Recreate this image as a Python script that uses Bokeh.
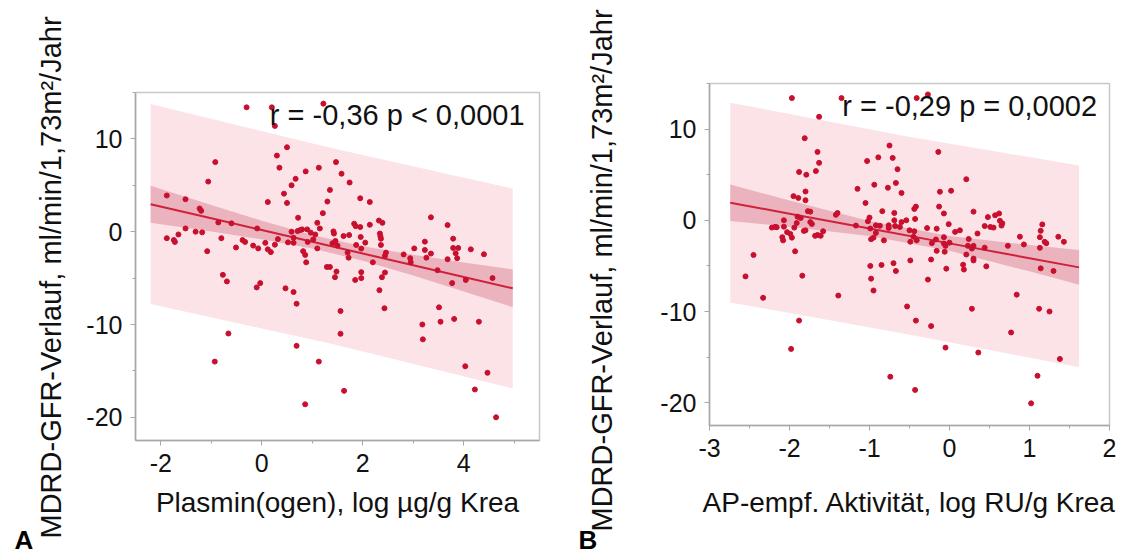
from bokeh.plotting import figure
from bokeh.layouts import row, column
from bokeh.models import Range1d, SingleIntervalTicker, Label, Title, CustomJSTickFormatter
from bokeh.embed import file_html
from bokeh.resources import INLINE

# ---------------- data: panel A (Plasmin(ogen)) ----------------
a_x = [-0.30, 0.20, 0.26, 1.22, 0.50, 0.30, -0.92, 0.35, 1.13, 0.87, 1.47, -1.06, 0.67, 0.59, 1.35, 0.44,
       0.50, 0.12, 1.30, 1.58, 1.74, 1.95, 2.14, -1.88, -1.51, -1.23, -1.20, 1.21, 0.72, -0.86, -0.60, -0.09,
       -1.51, -1.31, -1.18, -1.88, -1.74, -1.72, -1.65, -0.80, -1.08, -0.51, -0.38, -0.33, -0.17, -0.07, 0.07,
       0.12, 0.18, 0.26, 0.32, 0.52, 0.59, 0.63, 0.71, 0.76, 0.80, 0.90, 0.97, 1.06, 1.10, 1.15, 1.02, 1.10,
       0.63, 1.42, 1.43, 1.46, 1.40, 1.50, 1.62, 1.73, 1.83, 1.86, 1.95, 1.96, 1.87, 2.05, 1.97, 2.14, 2.32,
       2.39, 2.34, 2.35, 2.36, 2.36, 2.20, 2.46, 2.44, 1.70, 1.72, 0.82, 0.86, 0.88, 0.91, 1.29, 1.35, 1.48,
       1.45, 1.85, 1.97, 1.97, 2.38, 2.44, 2.33, 2.43, 1.56, 1.56, 1.63, 2.81, 2.94, 2.95, 3.02, 3.23, 3.23,
       3.26, 3.35, 3.35, 3.48, 3.68, 3.68, 3.79, 3.79, 3.89, 3.84, 3.87, 4.14, 4.40, 4.57, 3.77, 4.04, 3.51,
       3.18, 3.54, 3.81, 4.30, 3.19, 4.03, 4.47, 4.22, 4.64, -0.77, -0.69, -0.10, -0.03, 0.47, 0.63, 0.69,
       -0.66, 0.69, -0.93, 1.13, 0.86]
a_y = [13.4, 13.4, 11.4, 13.8, 9.1, 8.2, 7.5, 6.9, 6.9, 6.5, 7.5, 5.4, 5.7, 5.0, 4.5, 4.1,
       3.1, 3.2, 3.25, 6.25, 5.3, 3.6, 3.2, 3.9, 3.5, 2.5, 2.25, 2.0, 1.5, 1.0, 0.9, 0.35,
       0.35, 0.0, -0.07, -0.7, -0.9, -1.1, -0.3, -0.7, -2.1, -1.7, -0.9, -1.1, -1.5, -1.8, -1.2,
       -1.9, -2.2, -1.4, -0.8, -1.15, 0.0, -0.65, 0.07, 0.17, 0.25, 0.25, -0.1, -0.3, 0.96, 0.35, -0.83, -1.8,
       -1.2, 0.03, -0.2, -1.0, -1.25, -1.5, -0.47, -0.36, 0.86, 0.6, 0.5, -0.57, -1.43, -1.18, -1.82, 0.75, 1.2,
       0.96, -0.2, -0.5, -0.75, -1.43, -3.3, -2.25, -2.6, -2.25, -2.8, -2.1, -2.5, -3.3, -1.1, -3.8, -3.8, -4.3,
       -4.9, -5.2, -4.36, -5.0, -4.9, -4.4, -6.3, -8.25, -8.55, -11.0, -17.15, -2.45, -2.86, -3.3, -1.8, -1.07, -1.97,
       -2.8, 1.55, -2.36, -4.15, 0.71, -2.97, -0.75, -1.75, -1.75, -2.33, -2.86, -1.9, -2.43, -5.0, -5.54, -5.2, -8.15,
       -10.0, -9.7, -9.4, -9.7, -11.6, -14.5, -15.2, -17.0, -20.0, -4.65, -5.36, -6.0, -5.54, -6.1, -6.5, -7.76,
       -10.97, -12.3, -14.0, -14.0, -18.6]

# regression line and bands
a_fit_x = [-2.2, -1.0, 0.0, 1.0, 2.0, 3.0, 4.0, 4.97]
a_fit_y = [2.96, 1.44, 0.18, -1.08, -2.35, -3.61, -4.88, -6.10]
a_ci_hi = [4.96, 2.87, 1.18, -0.36, -1.57, -2.49, -3.31, -4.06]
a_ci_lo = [0.96, 0.01, -0.82, -1.80, -3.13, -4.73, -6.45, -8.14]
a_pi_x = [-2.2, 1.4, 4.97]
a_pi_hi = [13.75, 9.0, 4.64]
a_pi_lo = [-7.8, -12.1, -16.9]

# ---------------- data: panel B (AP-empf. Aktivitaet) ----------------
b_pts = [(-1.97, 13.4), (-1.35, 13.4), (-0.41, 13.4), (-0.27, 13.8),
         (-1.63, 11.35), (-1.81, 9.0), (-1.65, 7.5), (-1.63, 6.3), (-1.67, 5.4), (-1.88, 5.3), (-1.79, 5.0),
         (-1.80, 3.16), (-1.95, 2.65), (-1.89, 2.45), (-1.80, 2.2), (-1.77, 1.0), (-1.74, 0.95),
         (-1.90, 0.4), (-1.86, 0.25), (-1.74, -0.2), (-1.72, -0.4),
         (-2.07, 0.0), (-2.07, -0.7), (-2.22, -0.8), (-2.18, -0.72), (-2.16, -0.76),
         (-2.03, -1.3), (-1.99, -1.5), (-2.09, -1.85), (-2.08, -2.2), (-1.97, -1.9),
         (-1.94, -0.8), (-1.91, -0.3), (-1.82, -1.16), (-1.80, -1.1),
         (-1.68, -1.7), (-1.65, -1.6), (-1.61, -1.7), (-1.58, -1.2),
         (-1.93, -3.4), (-2.45, -3.8), (-2.55, -6.15), (-2.33, -8.5), (-1.84, -6.07), (-1.39, -8.25),
         (-1.88, -11.0), (-1.98, -14.1),
         (-1.42, 0.6), (-1.40, 0.8), (-1.17, -0.58), (-1.15, 3.45), (-1.05, 1.9),
         (-1.03, 6.5), (-0.89, 6.9), (-0.75, 8.2), (-0.71, 6.84), (-0.65, 5.6),
         (-0.94, 3.9), (-0.77, 3.57), (-0.67, 4.1), (-0.60, 3.0),
         (-1.00, 0.3), (-1.02, -0.1), (-0.84, 1.0), (-0.92, -0.55), (-0.76, -0.55), (-0.76, -0.84),
         (-0.69, 0.8), (-0.69, 0.0),
         (-0.95, -1.9), (-0.98, -2.07), (-0.82, -2.2), (-0.60, -0.2), (-0.54, 0.0), (-0.99, -0.9),
         (-0.92, -1.38), (-0.87, -0.6), (-0.62, -0.73), (-0.68, -0.62),
         (-0.99, -5.0), (-0.98, -6.4), (-0.95, -7.7), (-0.85, -4.9), (-0.70, -4.7), (-0.67, -5.56), (-0.49, -4.4),
         (-0.53, -9.45), (-0.42, -11.0), (-0.23, -11.6), (-0.74, -17.15), (-0.43, -18.6),
         (-0.14, 7.5), (0.21, 4.5), (-0.12, 3.13), (0.02, 3.24), (-0.13, 1.5), (-0.07, 0.75), (0.30, 0.95),
         (-0.42, 1.5), (-0.44, 1.25), (-0.43, 0.15),
         (-0.01, -0.42), (0.07, -1.27), (0.13, -1.1), (0.35, -1.45),
         (0.44, -0.63), (0.51, -0.73), (0.55, -0.8), (0.48, 0.35), (0.57, 0.55), (0.62, 0.75), (0.63, -0.05),
         (0.66, -0.33), (0.65, -0.58),
         (0.73, -2.8), (0.88, -1.8), (0.93, -2.65), (1.13, -1.85), (1.14, -1.15), (1.16, -0.45), (1.19, -2.36),
         (1.21, -2.52), (1.13, -3.02), (1.36, -1.8), (1.43, -2.36),
         (-0.50, -1.1), (-0.44, -1.2), (-0.45, -1.8), (-0.28, -0.85), (-0.16, -0.92),
         (-0.49, -2.35), (-0.41, -2.2), (-0.22, -2.5), (-0.17, -2.1), (-0.07, -1.85), (-0.07, -2.55),
         (-0.05, -2.8), (0.0, -2.45), (-0.16, -3.35), (-0.06, -3.45),
         (0.24, -2.05), (0.23, -2.8), (0.30, -2.8), (0.28, -3.1), (0.44, -3.0), (0.21, -3.75), (0.30, -4.2),
         (0.30, -4.4), (-0.23, -4.3), (-0.27, -6.5), (-0.04, -5.3),
         (0.17, -4.87), (0.18, -5.4), (0.46, -5.05), (0.28, -9.7), (-0.05, -13.96), (0.36, -14.5),
         (0.84, -8.15), (0.77, -12.3), (1.12, -9.7), (1.25, -10.0), (1.14, -5.27), (1.30, -5.56),
         (1.38, -15.2), (1.10, -17.05), (1.02, -20.07)]
b_x = [p[0] for p in b_pts]
b_y = [p[1] for p in b_pts]

b_fit_x = [-2.74, -2.0, -1.0, 0.0, 1.0, 1.62]
b_fit_y = [1.93, 0.72, -0.90, -2.53, -4.16, -5.16]
b_ci_hi = [3.93, 2.16, -0.08, -1.71, -2.72, -3.25]
b_ci_lo = [-0.07, -0.72, -1.72, -3.35, -5.60, -7.07]
b_pi_x = [-2.74, -0.56, 1.62]
b_pi_hi = [12.9, 9.25, 6.0]
b_pi_lo = [-9.0, -12.45, -16.1]

y_label = "MDRD-GFR-Verlauf, ml/min/1,73m²/Jahr"
a_xlabel = "Plasmin(ogen), log µg/g Krea"
b_xlabel = "AP-empf. Aktivität, log RU/g Krea"
a_stat = "r = -0,36 p < 0,0001"
b_stat = "r = -0,29 p = 0,0002"

FONT = "Liberation Sans"
PT_COL = "#c8102e"
LINE_COL = "#d0213a"
CI_COL = "#ebb3bd"
PI_COL = "#fbe3e7"


def make_panel(width, height, left, right, top, bottom, xr, x_int, xs, ys, fx, fy, clo, chi,
               px, plo, phi, xlabel, xlab_standoff, stat, stat_x, stat_y,
               ylab_offset, ylab_standoff, letter, letter_offset, letter_standoff):
    p = figure(width=width, height=height, output_backend="svg", toolbar_location=None,
               x_range=Range1d(*xr), y_range=Range1d(-22.5, 15),
               min_border_left=left, min_border_right=right, min_border_top=top,
               min_border_bottom=bottom, background_fill_color="white", border_fill_color="white")
    p.grid.visible = False
    p.outline_line_color = "#c8c8c8"
    p.outline_line_width = 1.5
    p.xaxis.ticker = SingleIntervalTicker(interval=x_int, num_minor_ticks=2)
    p.yaxis.ticker = SingleIntervalTicker(interval=10, num_minor_ticks=2)
    for ax in (p.xaxis, p.yaxis):
        ax.formatter = CustomJSTickFormatter(code="return tick.toFixed(0);")
        ax.axis_line_color = "#a8a8a8"
        ax.axis_line_width = 1.5
        ax.major_tick_line_color = "#a8a8a8"
        ax.minor_tick_line_color = "#a8a8a8"
        ax.major_tick_out = 5
        ax.major_tick_in = 0
        ax.minor_tick_out = 3
        ax.minor_tick_in = 0
        ax.major_label_text_font = FONT
        ax.major_label_text_font_size = "25px"
        ax.major_label_text_color = "#111111"
        ax.axis_label_text_font = FONT
        ax.axis_label_text_font_style = "normal"
        ax.axis_label_text_color = "#111111"
    p.xaxis.axis_label_text_font_size = "28px"
    p.xaxis.axis_label = xlabel
    p.xaxis.major_label_standoff = 8
    p.yaxis.major_label_standoff = 8
    p.xaxis.axis_label_standoff = xlab_standoff

    # y-axis title: rotated title in the left border, anchored at its lower end
    p.add_layout(Title(text=y_label, align="left", offset=ylab_offset, standoff=ylab_standoff,
                       text_font=FONT, text_font_size="29px", text_font_style="normal",
                       text_color="#111111"), "left")
    # panel letter below the x-axis title
    p.add_layout(Title(text=letter, align="left", offset=letter_offset, standoff=letter_standoff,
                       text_font=FONT, text_font_size="26px", text_font_style="bold",
                       text_color="#000000"), "below")

    p.varea(x=px, y1=plo, y2=phi, fill_color=PI_COL, fill_alpha=1.0)
    p.varea(x=fx, y1=clo, y2=chi, fill_color=CI_COL, fill_alpha=1.0)
    p.line(fx, fy, line_color=LINE_COL, line_width=2)
    p.scatter(xs, ys, size=5, fill_color=PT_COL, line_color=PT_COL)

    p.add_layout(Label(x=stat_x, y=stat_y, text=stat, text_font=FONT, text_font_size="29px",
                       text_color="#111111", text_baseline="middle"))
    return p


pA = make_panel(542, 557, 135, 3, 92, 115, (-2.5, 5.5), 2, a_x, a_y,
                a_fit_x, a_fit_y, a_ci_lo, a_ci_hi, a_pi_x, a_pi_lo, a_pi_hi,
                a_xlabel, 12, a_stat, 0.16, 12.6, -98, 34, "A", -121, 5)
pB = make_panel(587, 557, 167, 20, 83, 131, (-3, 2), 1, b_x, b_y,
                b_fit_x, b_fit_y, b_ci_lo, b_ci_hi, b_pi_x, b_pi_lo, b_pi_hi,
                b_xlabel, 27, b_stat, -1.34, 12.5, -106, 80, "B", -131, 5)

layout = row(column(pA), column(pB))
open("out.html", "w").write(file_html(layout, INLINE))
